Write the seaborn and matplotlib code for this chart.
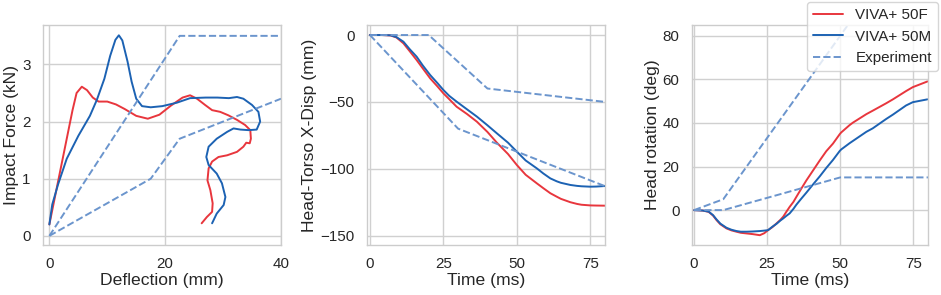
import numpy as np
import pandas as pd
import matplotlib
matplotlib.use("Agg")
import matplotlib.pyplot as plt
import seaborn as sns

# 1) Impact force vs deflection
f_defl = [0, 1, 2, 3, 4, 4.7, 5.6, 6.5, 7.5, 8.5, 10, 11.5, 13, 15, 17, 19, 21, 23, 24.3,
          25.5, 26.9, 28.1, 29.5, 30.9, 32.4, 33.8, 34.7, 34.8, 34.6, 34.0, 33.5, 32.4, 30.7,
          29.2, 28.1, 27.5, 27.3, 27.8, 28.2, 28.1, 27.2, 26.3]
f_force = [0.2, 0.7, 1.2, 1.7, 2.2, 2.5, 2.61, 2.55, 2.42, 2.35, 2.35, 2.3, 2.22, 2.1, 2.05,
           2.12, 2.28, 2.42, 2.46, 2.4, 2.29, 2.2, 2.17, 2.11, 2.03, 1.94, 1.85, 1.7, 1.62,
           1.63, 1.56, 1.47, 1.41, 1.38, 1.3, 1.18, 0.97, 0.8, 0.57, 0.42, 0.33, 0.22]
m_defl = [0, 0.5, 1.5, 3, 5, 7, 8.2, 9.5, 10.5, 11.4, 12, 12.6, 13.5, 14.2, 15, 16, 17.5,
          19.5, 22, 24.3, 27, 29, 31, 32.4, 33.5, 35, 36.1, 36.4, 35.8, 34.4, 33, 31.8, 30.7,
          28.9, 27.5, 27.1, 27.5, 28.9, 29.8, 30.4, 30.1, 28.9, 28.1]
m_force = [0.2, 0.55, 0.9, 1.35, 1.75, 2.1, 2.38, 2.75, 3.15, 3.43, 3.51, 3.42, 3.05, 2.7,
           2.4, 2.27, 2.25, 2.27, 2.33, 2.41, 2.42, 2.42, 2.41, 2.43, 2.4, 2.29, 2.17, 2.0,
           1.86, 1.85, 1.86, 1.88, 1.82, 1.7, 1.56, 1.38, 1.24, 1.09, 0.92, 0.68, 0.54, 0.39, 0.22]
exp1_hi_x = [0, 22.5, 40]
exp1_hi_y = [0, 3.5, 3.5]
exp1_lo_x = [0, 17.5, 22.5, 40]
exp1_lo_y = [0, 1.0, 1.7, 2.4]

# 2) Head-torso x displacement vs time
disp_t = [0, 4, 7, 9, 11.4, 13.5, 15.9, 18, 20.5, 23, 25, 27, 29.5, 33, 36.4, 40, 43.2, 47,
          50, 53, 56.8, 59, 61.4, 63.6, 65, 68.2, 70.5, 72, 75, 77, 80]
f_disp = [0, 0, -0.3, -1.8, -6.2, -12, -18.7, -25, -32.4, -38.5, -43.6, -48, -53.6, -59,
          -64.8, -72.5, -80.5, -89, -97.2, -104.5, -110.9, -114.5, -118.3, -120.9, -122.5,
          -125, -126.3, -126.9, -127.4, -127.5, -127.6]
m_disp = [0, 0, -0.2, -1.5, -5, -10.5, -16.2, -22.8, -29.9, -36, -41.1, -45.5, -49.8, -55.5,
          -61, -67.5, -73.5, -80.5, -87.2, -93.8, -99.7, -103.5, -107.2, -109.4, -110.5,
          -112.1, -112.8, -113.1, -113.4, -113.3, -112.9]
exp2_hi_t = [0, 20, 40, 80]
exp2_hi_y = [0, 0, -40, -50]
exp2_lo_t = [0, 30, 80]
exp2_lo_y = [0, -70, -113]

# 3) Head rotation vs time
rot_t = [0, 3, 5, 6.5, 7.7, 9, 11.1, 12.8, 14.5, 16, 18, 20, 22.5, 24, 25.3, 26.8, 28.2,
         29.5, 30.5, 31.6, 32.7, 34, 35, 36.7, 38.4, 40.7, 43, 45.2, 47.5, 49.8, 50.3, 53.2,
         54.3, 58.9, 61.1, 65.7, 68, 72.5, 74.8, 79.8]
f_rot = [0, -0.2, -0.8, -2.5, -4.6, -6.5, -8.4, -9.3, -9.9, -10.4, -10.7, -11.0, -11.5,
         -10.6, -9.2, -7.8, -6.1, -4.5, -3, -0.7, 1.5, 3.8, 6.1, 9.9, 13.6, 18.2, 22.8, 27.0,
         30.5, 34.8, 35.6, 39.0, 40.1, 44.0, 45.6, 49.0, 50.8, 54.6, 56.4, 59.0]
m_rot = [0, -0.2, -0.7, -2.3, -4.3, -6.2, -8.1, -9.0, -9.6, -9.9, -9.9, -9.8, -9.6, -9.4,
         -9.2, -7.6, -6.3, -4.8, -3.8, -2.6, -1.5, 0.6, 2.5, 5.3, 8.0, 11.8, 15.5, 19.3, 23.0,
         27.1, 27.8, 30.7, 31.7, 35.9, 37.5, 41.8, 43.8, 48.0, 49.5, 50.8]
exp3_hi_t = [0, 10, 50, 55]
exp3_hi_y = [0, 5, 80, 89.4]
exp3_lo_t = [0, 10, 50, 80]
exp3_lo_y = [0, 0, 15, 15]

RED = "#e8363d"
BLUE = "#1c62b3"
DASH = "#6b95cd"

sns.set_theme(style="whitegrid")
plt.rcParams["font.family"] = ["Liberation Sans", "DejaVu Sans"]
plt.rcParams["axes.edgecolor"] = "#cccccc"
plt.rcParams["grid.color"] = "#d0d0d0"

fig = plt.figure(figsize=(9.41, 2.95), dpi=100)
W, H = 941, 295
def add_ax(l, r):
    return fig.add_axes([l / W, (H - 245) / H, (r - l) / W, 220 / H])
ax1 = add_ax(43, 281)
ax2 = add_ax(367, 605)
ax3 = add_ax(692, 928)

lw = 1.4
kw_f = dict(color=RED, lw=lw, sort=False, estimator=None)
kw_m = dict(color=BLUE, lw=lw, sort=False, estimator=None)
kw_e = dict(color=DASH, lw=lw, sort=False, estimator=None, linestyle="--")

sns.lineplot(x=f_defl, y=f_force, ax=ax1, **kw_f)
sns.lineplot(x=m_defl, y=m_force, ax=ax1, **kw_m)
sns.lineplot(x=exp1_hi_x, y=exp1_hi_y, ax=ax1, **kw_e)
sns.lineplot(x=exp1_lo_x, y=exp1_lo_y, ax=ax1, **kw_e)
ax1.set_xlim(-1.1, 40)
ax1.set_ylim(-0.16, 3.69)
ax1.set_xticks([0, 20, 40])
ax1.set_yticks([0, 1, 2, 3])
ax1.set_xlabel("Deflection (mm)")
ax1.set_ylabel("Impact Force (kN)")

sns.lineplot(x=disp_t, y=f_disp, ax=ax2, **kw_f)
sns.lineplot(x=disp_t, y=m_disp, ax=ax2, **kw_m)
sns.lineplot(x=exp2_hi_t, y=exp2_hi_y, ax=ax2, **kw_e)
sns.lineplot(x=exp2_lo_t, y=exp2_lo_y, ax=ax2, **kw_e)
ax2.set_xlim(-1, 80)
ax2.set_ylim(-157, 7.5)
ax2.set_xticks([0, 25, 50, 75])
ax2.set_yticks([0, -50, -100, -150])
ax2.set_xlabel("Time (ms)")
ax2.set_ylabel("Head-Torso X-Disp (mm)")

sns.lineplot(x=rot_t, y=f_rot, ax=ax3, label="VIVA+ 50F", **kw_f)
sns.lineplot(x=rot_t, y=m_rot, ax=ax3, label="VIVA+ 50M", **kw_m)
sns.lineplot(x=exp3_hi_t, y=exp3_hi_y, ax=ax3, label="Experiment", **kw_e)
sns.lineplot(x=exp3_lo_t, y=exp3_lo_y, ax=ax3, **kw_e)
ax3.set_xlim(-0.7, 80)
ax3.set_ylim(-16, 84.9)
ax3.set_xticks([0, 25, 50, 75])
ax3.set_yticks([0, 20, 40, 60, 80])
ax3.set_xlabel("Time (ms)")
ax3.set_ylabel("Head rotation (deg)")

for ax in (ax1, ax2, ax3):
    ax.tick_params(labelsize=10.9, pad=3)
    ax.xaxis.label.set_size(12.6)
    ax.yaxis.label.set_size(12.6)
    ax.xaxis.labelpad = 1
    ax.yaxis.labelpad = 2
    for s in ax.spines.values():
        s.set_linewidth(1.0)

ax3.legend(loc="upper right", bbox_to_anchor=(938 / W, 1 - 2 / H),
           bbox_transform=fig.transFigure, fontsize=10.9, borderaxespad=0,
           frameon=True)

fig.savefig("out.png", dpi=100)
